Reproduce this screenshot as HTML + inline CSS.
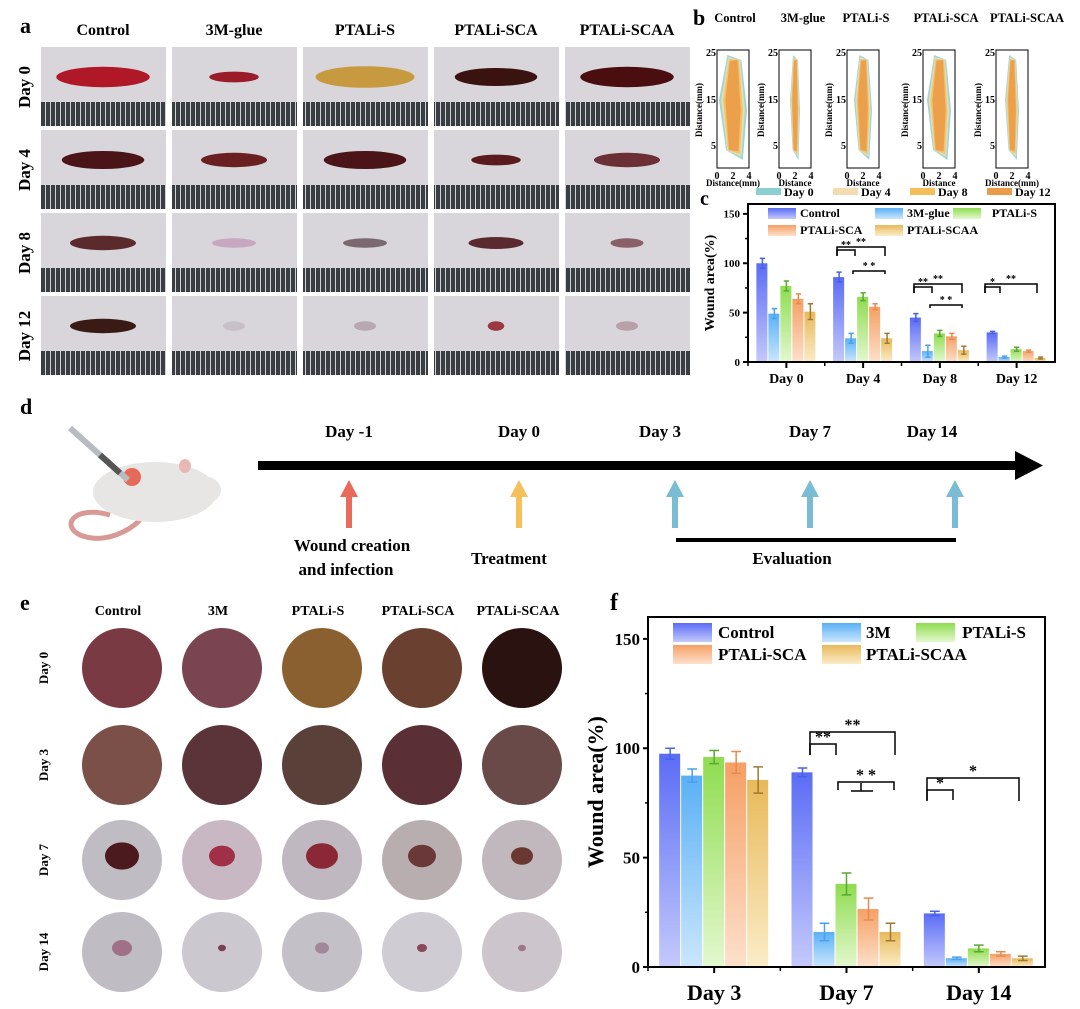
<!DOCTYPE html>
<html><head><meta charset="utf-8"><style>
body{margin:0;background:#fff;}
svg{display:block;font-family:"Liberation Serif",serif;font-weight:bold;}
</style></head><body>
<svg id="fig" width="1080" height="1009" viewBox="0 0 1080 1009" xmlns="http://www.w3.org/2000/svg">
<defs>
 <linearGradient id="gC" x1="0" y1="0" x2="0" y2="1"><stop offset="0" stop-color="#5a6cf5"/><stop offset="1" stop-color="#c4c9fb"/></linearGradient>
 <linearGradient id="g3" x1="0" y1="0" x2="0" y2="1"><stop offset="0" stop-color="#5ab0f5"/><stop offset="1" stop-color="#cbe6fd"/></linearGradient>
 <linearGradient id="gS" x1="0" y1="0" x2="0" y2="1"><stop offset="0" stop-color="#8fdc50"/><stop offset="1" stop-color="#e3f8cf"/></linearGradient>
 <linearGradient id="gA" x1="0" y1="0" x2="0" y2="1"><stop offset="0" stop-color="#f5a065"/><stop offset="1" stop-color="#fde0cb"/></linearGradient>
 <linearGradient id="gAA" x1="0" y1="0" x2="0" y2="1"><stop offset="0" stop-color="#e8b95a"/><stop offset="1" stop-color="#fbecc8"/></linearGradient>
 <pattern id="ruler" width="5" height="24" patternUnits="userSpaceOnUse"><rect width="5" height="24" fill="#3a3d42"/><rect x="0" y="0" width="1" height="24" fill="#cfd2d6"/></pattern>
</defs>
<g id="panelA"></g>
<g id="panelB"></g>
<g id="panelC"></g>
<g id="panelD"></g>
<g id="panelE"></g>
<g id="panelF"></g>
</svg>
<script>
const NS="http://www.w3.org/2000/svg";
function el(p,t,a,txt){const e=document.createElementNS(NS,t);for(const k in a)e.setAttribute(k,a[k]);if(txt!=null)e.textContent=txt;p.appendChild(e);return e;}
const A=document.getElementById('panelA'),B=document.getElementById('panelB'),C=document.getElementById('panelC'),D=document.getElementById('panelD'),E=document.getElementById('panelE'),F=document.getElementById('panelF');

// ---- chart data ----
const groupsF=["Control","3M","PTALi-S","PTALi-SCA","PTALi-SCAA"];
const daysF=["Day 3","Day 7","Day 14"];
const controlF=[97.5,89,24.5];
const m3F=[87.5,16,4];
const sF=[96,38,8.5];
const scaF=[93.5,26.5,6];
const scaaF=[85.5,16,4];
const errF=[[2.5,2,1],[3,4,0.5],[3,5,1.5],[5,5,1],[6,4,1]];
const ticksF=[0,50,100,150];

const groupsC=["Control","3M-glue","PTALi-S","PTALi-SCA","PTALi-SCAA"];
const daysC=["Day 0","Day 4","Day 8","Day 12"];
const controlC=[100,86,45,30];
const m3C=[49,24,11,5];
const sC=[77,66,29,13];
const scaC=[64,56,26,11];
const scaaC=[51,24,12,4];
const errC=[[5,5,4,1],[5,5,6,1],[5,4,3,2],[5,3,3,1],[8,5,4,1]];
const ticksC=[0,50,100,150];

const fills=["url(#gC)","url(#g3)","url(#gS)","url(#gA)","url(#gAA)"];
const errCol=["#4a60e8","#4aa0ee","#5aa830","#e88a50","#a07a30"];

function barChart(G,o){
  const {L,R,T,Bt,ymax,cats,series,errs,ticks,bw,fs,legend,sig}=o;
  const y=v=>Bt-(v/ymax)*(Bt-T);
  const step=(R-L)/cats.length;
  const x=i=>L+step*(i+0.5);
  const gn=['control','3m','ptali-s','ptali-sca','ptali-scaa'];
  series.forEach((s,si)=>{s.forEach((v,ci)=>{
    const bx=x(ci)+(si-2)*bw-bw/2;
    const r=el(G,'rect',{x:bx,y:y(v),width:bw-1,height:Bt-y(v),fill:fills[si]});
    
    
    const e=errs[si][ci],cx=bx+bw/2;
    el(G,'path',{d:`M${cx} ${y(v+e)}V${y(v-e)}M${cx-bw*0.22} ${y(v+e)}H${cx+bw*0.22}M${cx-bw*0.22} ${y(v-e)}H${cx+bw*0.22}`,stroke:errCol[si],'stroke-width':1.5,fill:'none'});
  });});
  el(G,'rect',{x:L,y:T,width:R-L,height:Bt-T,fill:'none',stroke:'#000','stroke-width':2,});
  ticks.forEach(t=>{
    el(G,'line',{x1:L-5,x2:L,y1:y(t),y2:y(t),stroke:'#000','stroke-width':2});
    if(t+25<ymax)el(G,'line',{x1:L-3,x2:L,y1:y(t+25),y2:y(t+25),stroke:'#000','stroke-width':1.5});
    const tl=el(G,'text',{x:L-8,y:y(t)+fs*0.35,'text-anchor':'end','font-size':fs},t);
    
    
  });
  cats.forEach((c,i)=>{
    el(G,'line',{x1:x(i),x2:x(i),y1:Bt,y2:Bt+6,stroke:'#000','stroke-width':2});
    el(G,'line',{x1:L+step*i,x2:L+step*i,y1:Bt,y2:Bt+4,stroke:'#000','stroke-width':1.5});
    const tl=el(G,'text',{x:x(i),y:Bt+o.xlOff,'text-anchor':'middle','font-size':o.xfs},c);
    
    
  });
  const yt=el(G,'text',{transform:`translate(${o.ytx},${(T+Bt)/2}) rotate(-90)`,'text-anchor':'middle','font-size':o.yfs},'Wound area(%)');
  
  
  legend.forEach((lg,i)=>{
    el(G,'rect',{x:lg[0],y:lg[1],width:o.lw,height:o.lh,fill:fills[i]});
    const t=el(G,'text',{x:lg[2],y:lg[1]+o.lh*0.8,'text-anchor':lg[3]||'start','font-size':o.lfs},o.names[i]);
    
    
  });
  sig.forEach(s=>{
    el(G,'path',{d:`M${s[0]} ${s[3]}V${s[2]}H${s[1]}V${s[3]}`,stroke:'#000','stroke-width':1.5,fill:'none'});
    el(G,'text',{x:(s[0]+s[1])/2,y:s[2]-2,'text-anchor':'middle','font-size':o.sfs},s[4]);
  });
}

// Panel F
barChart(F,{L:648,R:1045,T:617,Bt:967,ymax:160,cats:daysF,series:[controlF,m3F,sF,scaF,scaaF],errs:errF,ticks:ticksF,bw:22,fs:17,xfs:22,xlOff:33,yfs:22,ytx:603,
 names:groupsF,lw:39,lh:19,lfs:17,sfs:16,
 legend:[[673,623,718],[822,623,866],[916,623,1026,'end'],[673,645,718],[822,645,866]],
 sig:[[810,836,744,755,'**'],[810,895,732,755,'**'],[838,894,782,790,'*  *'],[927,953,790,800,'*'],[927,1019,778,801,'*']]});
el(F,'text',{x:610,y:610,'font-size':24},'f');
el(F,'path',{d:'M861 783V791M851 791H873',stroke:'#000','stroke-width':1.5});

// Panel C
barChart(C,{L:748,R:1055,T:204,Bt:362,ymax:160,cats:daysC,series:[controlC,m3C,sC,scaC,scaaC],errs:errC,ticks:ticksC,bw:12,fs:11,xfs:14,xlOff:21,yfs:14,ytx:714,
 names:groupsC,lw:28,lh:11,lfs:12,sfs:10,
 legend:[[768,208,800],[875,208,907],[953,208,1037,'end'],[768,225,800],[875,225,907]],
 sig:[[837,855,250,256,'**'],[837,885,247,256,'**'],[853,885,271,274,'* *'],[914,932,287,293,'**'],[914,962,284,293,'**'],[930,962,305,308,'* *'],[985,1000,287,293,'*'],[985,1037,284,293,'**']]});
el(C,'text',{x:700,y:205,'font-size':20},'c');

// Panel A
const colsA=["Control","3M-glue","PTALi-S","PTALi-SCA","PTALi-SCAA"];
const rowsA=["Day 0","Day 4","Day 8","Day 12"];
const woundA=[["#b01828","#9a1c28","#c89a40","#3a1210","#4a0e10"],["#4a1418","#6a2020","#4a1418","#5a1a1e","#6a3036"],["#5a2a2c","#c8a8c0","#7a6a70","#5a2a30","#8a6068"],["#3a1a14","#c8c0c8","#b8a8b0","#9a3a40","#b8a0a8"]];
const wsz=[[0.85,0.45,0.9,0.75,0.85],[0.75,0.6,0.75,0.45,0.6],[0.6,0.4,0.4,0.5,0.3],[0.6,0.2,0.2,0.15,0.2]];
el(A,'text',{x:20,y:33,'font-size':22},'a');
colsA.forEach((c,i)=>{el(A,'text',{x:103+i*131,y:35,'text-anchor':'middle','font-size':16},c);});
rowsA.forEach((r,j)=>{
  const y0=[47,130,213,296][j];
  el(A,'text',{transform:`translate(30,${y0+40}) rotate(-90)`,'text-anchor':'middle','font-size':17},r);
  colsA.forEach((c,i)=>{
    const x0=41+i*131;
    const g=el(A,'g',{});
    
    
    el(g,'rect',{x:x0,y:y0,width:125,height:79,fill:'#d8d6da'});
    const w=wsz[j][i];
    el(g,'ellipse',{cx:x0+62,cy:y0+30,rx:55*w,ry:12*Math.max(w,0.4),fill:woundA[j][i]});
    el(g,'rect',{x:x0,y:y0+55,width:125,height:24,fill:'url(#ruler)'});
  });
});

// Panel B
el(B,'text',{x:693,y:25,'font-size':22},'b');
const bTitles=["Control","3M-glue","PTALi-S","PTALi-SCA","PTALi-SCAA"];
const bTx=[735,803,866,946,1027];
bTitles.forEach((t,i)=>el(B,'text',{x:bTx[i],y:22,'text-anchor':'middle','font-size':12.5},t));
const bx=[717,779,847,923,996];
const bc=["#8ccfd0","#f5dcb0","#f5be58","#ea9a48"];
bx.forEach((x0,i)=>{
  const g=el(B,'g',{});
  
  
  el(g,'rect',{x:x0,y:50,width:32,height:118,fill:'none',stroke:'#000','stroke-width':1});
  const cx=x0+16;
  const w=[14,5,9,12,7][i];
  bc.forEach((col,k)=>{
    const ww=w*(1-k*0.15);
    el(g,'path',{d:`M${cx-ww*0.4} ${55+k*2}L${cx+ww*0.6} ${60}L${cx+ww} ${110}L${cx+ww*0.7} ${160-k*3}L${cx-ww*0.5} ${150}L${cx-ww} ${100}Z`,fill:col,opacity:0.85});
  });
  [["25",52],["15",99],["5",145]].forEach(t=>el(g,'text',{x:x0-1,y:t[1]+4,'text-anchor':'end','font-size':10},t[0]));
  [["0",0],["2",16],["4",32]].forEach(t=>el(g,'text',{x:x0+t[1],y:179,'text-anchor':'middle','font-size':10},t[0]));
  el(g,'text',{transform:`translate(${x0-15},110) rotate(-90)`,'text-anchor':'middle','font-size':9},'Distance(mm)');
  el(g,'text',{x:cx,y:186,'text-anchor':'middle','font-size':9},i==0||i==4?'Distance(mm)':'Distance');
});
const bLeg=["Day 0","Day 4","Day 8","Day 12"];
bLeg.forEach((t,i)=>{
  el(B,'rect',{x:756+i*77,y:188,width:25,height:7,fill:bc[i]});
  const lt=el(B,'text',{x:784+i*77,y:196,'font-size':12},t);
  
  
});

// Panel D
el(D,'text',{x:20,y:414,'font-size':22},'d');
el(D,'rect',{x:258,y:461,width:760,height:9,fill:'#000',});
el(D,'path',{d:'M1015 451L1043 465.5L1015 480Z',fill:'#000'});
const dDays=["Day -1","Day 0","Day 3","Day 7","Day 14"],dX=[349,519,660,810,932],dCol=["#e86a5a","#f5bf5a","#7abcd4","#7abcd4","#7abcd4"],aX=[349,519,675,810,955];
dDays.forEach((d,i)=>{
  el(D,'text',{x:dX[i],y:437,'text-anchor':'middle','font-size':17},d);
  el(D,'path',{d:`M${aX[i]-9} 497L${aX[i]} 480L${aX[i]+9} 497H${aX[i]+3}V528H${aX[i]-3}V497Z`,fill:dCol[i]});
});
el(D,'text',{x:352,y:551,'text-anchor':'middle','font-size':17},'Wound creation');
el(D,'text',{x:346,y:575,'text-anchor':'middle','font-size':17},'and infection');
el(D,'text',{x:509,y:564,'text-anchor':'middle','font-size':17},'Treatment');
el(D,'rect',{x:676,y:538,width:280,height:4,fill:'#000'});
el(D,'text',{x:792,y:564,'text-anchor':'middle','font-size':17},'Evaluation');
const m=el(D,'g',{});
el(m,'path',{d:'M110 515 C75 505 60 525 80 535 C105 545 130 530 140 520',stroke:'#d99a95','stroke-width':5,fill:'none'});
el(m,'ellipse',{cx:155,cy:492,rx:62,ry:30,fill:'#e8e6e4'});
el(m,'ellipse',{cx:203,cy:490,rx:18,ry:14,fill:'#e8e6e4'});
el(m,'ellipse',{cx:185,cy:466,rx:6,ry:7,fill:'#e8b8b4'});
el(m,'circle',{cx:132,cy:477,r:9,fill:'#e56a5a'});
el(m,'line',{x1:70,y1:428,x2:128,y2:480,stroke:'#b8bcc0','stroke-width':6});
el(m,'line',{x1:100,y1:455,x2:120,y2:473,stroke:'#555','stroke-width':6});

// Panel E
el(E,'text',{x:20,y:610,'font-size':22},'e');
const eCols=["Control","3M","PTALi-S","PTALi-SCA","PTALi-SCAA"],eX=[118,218,318,418,518];
eCols.forEach((c,i)=>el(E,'text',{x:eX[i],y:615,'text-anchor':'middle','font-size':14},c));
const eRows=["Day 0","Day 3","Day 7","Day 14"],eY=[668,765,860,952];
const eBg=[["#7a3a44","#7a4450","#8a6030","#6a4030","#2a1210"],["#7a5048","#5a3438","#5a4038","#5a3036","#6a4a48"],["#c0bcc4","#c8b8c4","#c0b8c0","#b8aeb0","#c0b8bc"],["#c0bcc4","#ccc8d0","#c4c0c8","#d0ccd4","#ccc6cc"]];
const eW=[[0,0,0,0,0],[0,0,0,0,0],["#4a1a1e","#a03048","#8a2838","#6a3838","#6a3830"],["#a07088","#7a4050","#a08898","#8a4858","#9a7888"]];
const eR=[[0,0,0,0,0],[0,0,0,0,0],[17,13,16,14,11],[10,4,7,5,4]];
eRows.forEach((r,j)=>{
  el(E,'text',{transform:`translate(48,${eY[j]}) rotate(-90)`,'text-anchor':'middle','font-size':13},r);
  eCols.forEach((c,i)=>{
    const g=el(E,'g',{});
    
    
    el(g,'circle',{cx:eX[i]+4,cy:eY[j],r:40,fill:eBg[j][i]});
    if(eR[j][i])el(g,'ellipse',{cx:eX[i]+4,cy:eY[j]-4,rx:eR[j][i],ry:eR[j][i]*0.8,fill:eW[j][i]});
  });
});
</script>
</body></html>
